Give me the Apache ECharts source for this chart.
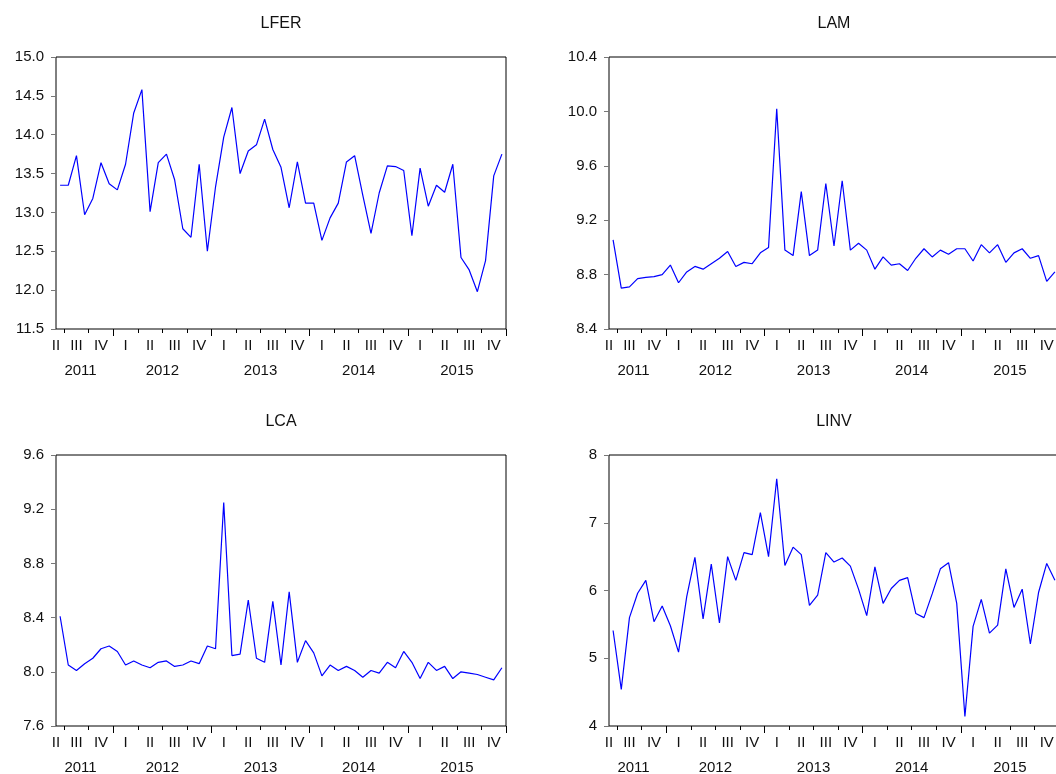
<!DOCTYPE html>
<html><head><meta charset="utf-8">
<script src="https://cdn.jsdelivr.net/npm/echarts@6/dist/echarts.min.js"></script>
<style>html,body{margin:0;padding:0;background:#fff}#c{width:1056px;height:774px}</style>
</head><body><div id="c"></div>
<script>
// ---- data ----
const months = ['2011-06','2011-07','2011-08','2011-09','2011-10','2011-11','2011-12',
'2012-01','2012-02','2012-03','2012-04','2012-05','2012-06','2012-07','2012-08','2012-09','2012-10','2012-11','2012-12',
'2013-01','2013-02','2013-03','2013-04','2013-05','2013-06','2013-07','2013-08','2013-09','2013-10','2013-11','2013-12',
'2014-01','2014-02','2014-03','2014-04','2014-05','2014-06','2014-07','2014-08','2014-09','2014-10','2014-11','2014-12',
'2015-01','2015-02','2015-03','2015-04','2015-05','2015-06','2015-07','2015-08','2015-09','2015-10','2015-11','2015-12'];
const endBoundary = '2016-01';
const quarterNames = ['I','II','III','IV'];
const titles = ['LFER','LAM','LCA','LINV'];
const lfer = [13.35,13.35,13.73,12.97,13.18,13.64,13.37,13.29,13.62,14.28,14.58,13.01,13.64,13.75,13.42,12.79,12.68,13.62,12.50,13.33,13.97,14.35,13.50,13.79,13.87,14.20,13.81,13.58,13.06,13.65,13.12,13.12,12.64,12.93,13.12,13.65,13.73,13.22,12.73,13.25,13.60,13.59,13.54,12.70,13.57,13.08,13.35,13.26,13.62,12.42,12.26,11.98,12.38,13.47,13.75];
const lam = [9.055,8.70,8.71,8.77,8.78,8.785,8.80,8.87,8.74,8.82,8.86,8.84,8.88,8.92,8.97,8.86,8.89,8.88,8.96,9.00,10.02,8.98,8.94,9.41,8.94,8.98,9.47,9.01,9.49,8.98,9.03,8.98,8.84,8.93,8.87,8.88,8.83,8.92,8.99,8.93,8.98,8.95,8.99,8.99,8.90,9.02,8.96,9.02,8.89,8.96,8.99,8.92,8.94,8.75,8.82];
const lca = [8.41,8.05,8.01,8.06,8.10,8.17,8.19,8.15,8.05,8.08,8.05,8.03,8.07,8.08,8.04,8.05,8.08,8.06,8.19,8.17,9.25,8.12,8.13,8.53,8.10,8.07,8.52,8.05,8.59,8.07,8.23,8.14,7.97,8.05,8.01,8.04,8.01,7.96,8.01,7.99,8.07,8.03,8.15,8.07,7.95,8.07,8.01,8.04,7.95,8.00,7.99,7.98,7.96,7.94,8.03];
const linv = [5.41,4.54,5.60,5.96,6.15,5.54,5.77,5.48,5.09,5.91,6.49,5.58,6.39,5.52,6.50,6.15,6.56,6.53,7.15,6.50,7.65,6.37,6.64,6.53,5.78,5.93,6.56,6.42,6.48,6.36,6.02,5.63,6.35,5.81,6.03,6.15,6.19,5.66,5.60,5.95,6.32,6.41,5.81,4.14,5.47,5.87,5.37,5.49,6.32,5.75,6.02,5.21,5.97,6.40,6.15];
const yMin = [11.5, 8.4, 7.6, 4];
const yMax = [15.0, 10.4, 9.6, 8];
const yStep = [0.5, 0.4, 0.4, 1];
const yDecimals = [1, 1, 1, 0];
const seriesData = [lfer, lam, lca, linv];

// ---- helpers ----
const boundaries = months.concat([endBoundary]);
const monthNum = s => parseInt(s.slice(5, 7), 10);
const yearOf = s => s.slice(0, 4);
const yearCenters = {};
(function(){
  const first = {}, last = {};
  months.forEach((m, i) => { const y = yearOf(m); if (!(y in first)) first[y] = i; last[y] = i; });
  Object.keys(first).forEach(y => { yearCenters[Math.floor((first[y] + last[y] + 1) / 2)] = y; });
})();

const FONT = "'Liberation Sans', Arial, sans-serif";
const TXT = '#111';
const layout = [
  {left: 56,  top: 57,  height: 272},
  {left: 609, top: 57,  height: 272},
  {left: 56,  top: 455, height: 271},
  {left: 609, top: 455, height: 271}
];

const grids = [], xAxes = [], yAxes = [], series = [];
layout.forEach((L, p) => {
  grids.push({left: L.left, top: L.top, width: 450, height: L.height, show: true,
    borderColor: '#000', borderWidth: 1, backgroundColor: 'transparent', outerBoundsMode: 'none', containLabel: false});
  // month axis (quarter labels)
  xAxes.push({type: 'category', gridIndex: p, position: 'bottom', data: months, boundaryGap: true,
    axisLine: {show: false}, axisTick: {show: false}, splitLine: {show: false},
    axisLabel: {show: true, margin: 9, color: TXT, fontSize: 15, fontFamily: FONT,
      interval: (i, v) => (monthNum(v) - 1) % 3 === 1,
      formatter: (v) => (monthNum(v) - 1) % 3 === 1 ? quarterNames[Math.floor((monthNum(v) - 1) / 3)] : ''}});
  // boundary axis: quarter ticks + leading partial-quarter label
  xAxes.push({type: 'category', gridIndex: p, position: 'bottom', data: boundaries, boundaryGap: false,
    axisLine: {show: false}, splitLine: {show: false},
    axisTick: {show: true, length: 4, lineStyle: {color: '#000', width: 1},
      interval: (k, v) => (monthNum(v) - 1) % 3 === 0 && monthNum(v) !== 1},
    axisLabel: {show: true, margin: 9, color: TXT, fontSize: 15, fontFamily: FONT,
      interval: (k) => k === 0,
      formatter: (v, k) => k === 0 ? quarterNames[Math.floor((monthNum(v) - 1) / 3)] : ''}});
  // boundary axis: year ticks + year labels
  xAxes.push({type: 'category', gridIndex: p, position: 'bottom', data: boundaries, boundaryGap: false,
    axisLine: {show: false}, splitLine: {show: false},
    axisTick: {show: true, length: 7, lineStyle: {color: '#000', width: 1},
      interval: (k, v) => monthNum(v) === 1},
    axisLabel: {show: true, margin: 34, color: TXT, fontSize: 15, fontFamily: FONT,
      interval: (k) => k in yearCenters,
      formatter: (v, k) => (k in yearCenters) ? yearCenters[k] : ''}});
  // title axis
  xAxes.push({type: 'category', gridIndex: p, position: 'top', data: months,
    axisLine: {show: false}, axisTick: {show: false}, axisLabel: {show: false}, splitLine: {show: false},
    name: titles[p], nameLocation: 'middle', nameGap: 25,
    nameTextStyle: {color: TXT, fontSize: 16, fontFamily: FONT}});
  yAxes.push({type: 'value', gridIndex: p, min: yMin[p], max: yMax[p], interval: yStep[p],
    axisLine: {show: false}, splitLine: {show: false},
    axisTick: {show: true, length: 5, lineStyle: {color: '#777', width: 1}},
    axisLabel: {margin: 12, color: TXT, fontSize: 15, fontFamily: FONT,
      formatter: v => v.toFixed(yDecimals[p])}});
  series.push({type: 'line', xAxisIndex: 4 * p, yAxisIndex: p, data: seriesData[p],
    showSymbol: false, symbol: 'none', lineStyle: {color: '#0000ff', width: 1.2}, itemStyle: {color: '#0000ff'},
    emphasis: {disabled: true}, animation: false});
});

const chart = echarts.init(document.getElementById('c'), null, {renderer: 'canvas'});
chart.setOption({backgroundColor: '#fff', animation: false, textStyle: {fontFamily: FONT},
  grid: grids, xAxis: xAxes, yAxis: yAxes, series: series});
</script></body></html>
